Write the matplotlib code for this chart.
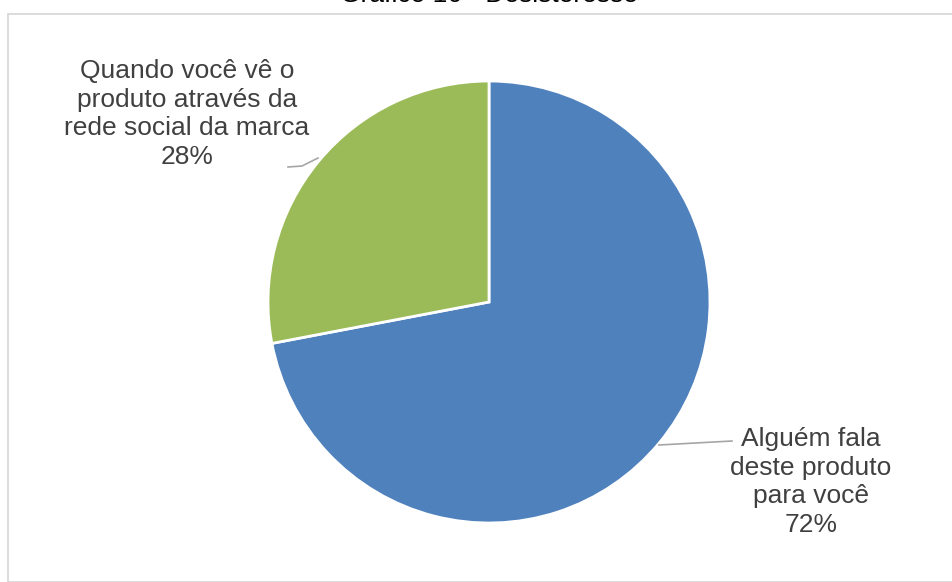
import matplotlib.pyplot as plt
from matplotlib.lines import Line2D
from matplotlib.patches import Rectangle

categorias = ['Alguém fala\ndeste produto\npara você',
              'Quando você vê o\nproduto através da\nrede social da marca']
valores = [72, 28]
cores = ['#4F81BD', '#9BBB59']
titulo = 'Gráfico 16 - Desisteresse'

W, H = 952, 582
plt.rcParams['font.family'] = ['Liberation Sans', 'DejaVu Sans']

fig = plt.figure(figsize=(W/100, H/100), dpi=100)

def fx(x):
    return x / W

def fy(y):
    return 1 - y / H

# moldura cinza
fig.patches.append(Rectangle((fx(8), 0), 1.5, fy(14), transform=fig.transFigure,
                             fill=False, edgecolor='#D9D9D9', linewidth=1.3))

# pizza
cx, cy, r = 489, 302, 221
ax = fig.add_axes([fx(cx - r), fy(cy + r), 2*r/W, 2*r/H])
ax.pie(valores, colors=cores, startangle=90, counterclock=False, radius=1,
       wedgeprops=dict(edgecolor='white', linewidth=2))
ax.set_xlim(-1, 1)
ax.set_ylim(-1, 1)
ax.set_aspect('equal')
ax.axis('off')

# rótulos
txt_kw = dict(ha='center', va='center', fontsize=19, color='#404040', linespacing=1.24)
fig.text(fx(811), fy(482), f'{categorias[0]}\n{valores[0]}%', **txt_kw)
fig.text(fx(187), fy(114), f'{categorias[1]}\n{valores[1]}%', **txt_kw)

# linhas de chamada
fig.lines.append(Line2D([fx(659), fx(732)], [fy(445), fy(441)],
                        transform=fig.transFigure, color='#A6A6A6', linewidth=1.2))
fig.lines.append(Line2D([fx(288), fx(302), fx(318)], [fy(167), fy(166), fy(158)],
                        transform=fig.transFigure, color='#A6A6A6', linewidth=1.2))

# título (cortado no topo)
fig.text(fx(489), fy(2.5), titulo, ha='center', va='baseline', fontsize=19, color='black')

fig.savefig('out.png', dpi=100)
